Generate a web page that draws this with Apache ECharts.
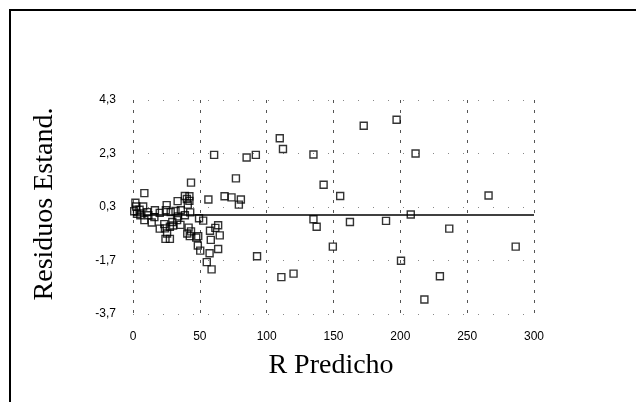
<!DOCTYPE html>
<html>
<head>
<meta charset="utf-8">
<script src="https://cdn.jsdelivr.net/npm/echarts@6/dist/echarts.min.js"></script>
<style>html,body{margin:0;padding:0;background:#fff}#c{width:636px;height:402px}</style>
</head>
<body>
<div id="c"></div>
<script>
var xTitle = 'R Predicho';
var yTitle = 'Residuos Estand.';
var xTicks = [0, 50, 100, 150, 200, 250, 300];
var yTicks = ['-3,7', '-1,7', '0,3', '2,3', '4,3'];
var xPred = [8.5, 43.4, 60.7, 85, 91.9, 77, 68.5, 73.7, 80.7, 79.2, 56.4, 109.8, 112.2, 135, 142.6, 155,
  172.6, 197.2, 211.4, 266, 207.8, 135, 137.4, 162.3, 189.3, 236.6, 149.5, 286.3, 92.8, 200.5, 120.1, 111,
  229.6, 218, 52.5, 49.4, 57.6, 61.6, 63.7, 58.2, 64.9, 63.7, 57.3, 55.2, 58.8, 50.3, 48.5, 47.3, 48.8,
  43.4, 40.6, 41.6, 42.5, 35.5, 42.8, 42.2, 42.2, 38.8, 40.3, 41, 33.4, 25.2, 24.6, 28.2, 31.8, 35.8,
  38.8, 33, 29.4, 27.6, 30, 23.4, 20, 23.9, 25.5, 24.3, 27.6, 14, 16, 16.4, 11.5, 8.5, 7.6, 4.9, 1.8,
  2.4, 0.9, 3, 5.5, 10.6, 20, 33.7];
var yResid = [0.82, 1.21, 2.25, 2.15, 2.25, 1.37, 0.70, 0.66, 0.58, 0.39, 0.58, 2.87, 2.47, 2.26, 1.13, 0.71,
  3.34, 3.56, 2.3, 0.73, 0.02, -0.16, -0.44, -0.26, -0.22, -0.51, -1.18, -1.18, -1.54, -1.71, -2.19, -2.32,
  -2.29, -3.16, -0.21, -0.12, -0.59, -0.48, -0.38, -0.93, -0.76, -1.27, -1.43, -1.76, -2.03, -1.33, -1.14,
  -0.84, -0.79, -0.61, -0.69, -0.47, -0.79, -0.37, 0.1, 0.53, 0.7, 0.71, 0.6, 0.39, 0.52, 0.37, 0.18,
  0.11, 0.15, 0.18, -0.01, -0.19, -0.26, -0.44, -0.39, -0.34, -0.51, -0.5, -0.69, -0.89, -0.89, -0.28,
  -0.08, 0.18, -0.01, -0.19, 0.32, 0.2, 0.46, 0.32, 0.14, 0.05, -0.01, 0.11, 0.08, -0.05];
var refLine = 0;

var pts = xPred.map(function (x, i) { return [x, yResid[i]]; });
var yMin = -3.7, yMax = 4.3, yStep = 2;

var chart = echarts.init(document.getElementById('c'), null, {renderer: 'canvas'});
chart.setOption({
  animation: false,
  backgroundColor: '#fff',
  grid: {left: 133, right: 102, top: 100, bottom: 88},
  xAxis: {
    type: 'value', min: xTicks[0], max: xTicks[xTicks.length - 1], interval: 50,
    axisLine: {show: false}, axisTick: {show: false},
    axisLabel: {margin: 17, color: '#000', fontFamily: 'Liberation Sans, Arial, sans-serif', fontSize: 12},
    splitLine: {show: true, lineStyle: {color: '#555', width: 1, type: [3, 7]}}
  },
  yAxis: {
    type: 'value', min: yMin, max: yMax, interval: yStep,
    axisLine: {show: false}, axisTick: {show: false},
    axisLabel: {margin: 17, color: '#000', fontFamily: 'Liberation Sans, Arial, sans-serif', fontSize: 12,
      formatter: function (v) {
        var idx = Math.round((v - yMin) / yStep);
        return yTicks[idx] || '';
      }},
    splitLine: {show: true, lineStyle: {color: '#888', width: 1, type: [1, 14]}}
  },
  series: [{
    type: 'scatter',
    data: pts,
    symbol: 'rect',
    symbolSize: 7,
    itemStyle: {color: 'rgba(255,255,255,0)', borderColor: '#000', borderWidth: 1.4},
    markLine: {
      silent: true, symbol: 'none', label: {show: false},
      lineStyle: {color: '#000', width: 1.5, type: 'solid'},
      data: [[{coord: [xTicks[0], refLine]}, {coord: [xTicks[xTicks.length - 1], refLine]}]]
    }
  }],
  graphic: [
    {type: 'rect', shape: {x: 10, y: 10, width: 700, height: 500},
      style: {fill: 'none', stroke: '#000', lineWidth: 2}},
    {type: 'text', x: 331, y: 366,
      style: {text: xTitle, font: '28px "Liberation Serif", serif', fill: '#000', textAlign: 'center', textVerticalAlign: 'middle'}},
    {type: 'text', x: 45, y: 204, rotation: Math.PI / 2,
      style: {text: yTitle, font: '28px "Liberation Serif", serif', fill: '#000', textAlign: 'center', textVerticalAlign: 'middle'}}
  ]
});
</script>
</body>
</html>
